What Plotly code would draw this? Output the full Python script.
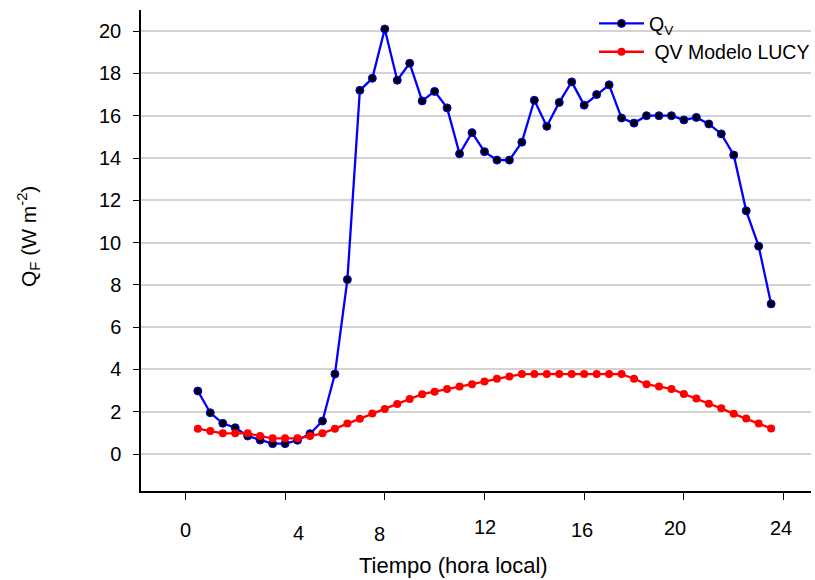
import plotly.graph_objects as go

hours = [0.5 * i for i in range(1, 48)]
qv_obs = [2.98, 1.95, 1.45, 1.24, 0.85, 0.66, 0.49, 0.49, 0.65, 0.96, 1.56, 3.78,
          8.25, 17.2, 17.77, 20.1, 17.68, 18.48, 16.7, 17.15, 16.37, 14.2, 15.2, 14.3,
          13.9, 13.9, 14.75, 16.73, 15.5, 16.63, 17.6, 16.5, 17.0, 17.46, 15.89, 15.65,
          16.0, 16.0, 16.0, 15.8, 15.92, 15.61, 15.14, 14.14, 11.5, 9.83, 7.1]
qv_lucy = [1.2, 1.09, 0.98, 0.98, 0.98, 0.85, 0.74, 0.74, 0.74, 0.85, 0.98, 1.2,
           1.44, 1.67, 1.91, 2.13, 2.37, 2.6, 2.83, 2.95, 3.08, 3.19, 3.30, 3.43,
           3.56, 3.67, 3.78, 3.78, 3.78, 3.78, 3.78, 3.78, 3.78, 3.78, 3.78, 3.56,
           3.30, 3.19, 3.08, 2.84, 2.62, 2.38, 2.16, 1.90, 1.68, 1.44, 1.21]
x_ticks = [0, 4, 8, 12, 16, 20, 24]
x_tick_labels = ["0", "4", "8", "12", "16", "20", "24"]
y_ticks = list(range(0, 21, 2))

# per-label jitter of the original's x tick labels (style only)
x_label_dx = [0, 13, -5, 1, -2, -9, -3]
x_label_cy = [530, 533, 534, 527, 530, 528, 528]

FONT = "Liberation Sans, Arial, sans-serif"
W, H = 815, 580
L, R, T, B = 141, 0, 10, 89

fig = go.Figure()
fig.add_trace(go.Scatter(
    x=hours, y=qv_obs, mode="lines+markers", name="Q<sub>V</sub>",
    line=dict(color="#0000ff", width=2.3),
    marker=dict(color="#000000", size=8, line=dict(color="#0000ff", width=1)),
    legendgroup="a",
))
fig.add_trace(go.Scatter(
    x=hours, y=qv_lucy, mode="lines+markers", name=" QV Modelo LUCY",
    line=dict(color="#ff0000", width=2.3),
    marker=dict(color="#ff0000", size=8),
    legendgroup="b",
))

annotations = []
for v, lab, dx, cy in zip(x_ticks, x_tick_labels, x_label_dx, x_label_cy):
    annotations.append(dict(
        x=v, xref="x", y=0, yref="paper", text=lab, showarrow=False,
        xanchor="center", yanchor="middle", xshift=dx, yshift=-(cy - (H - B)),
        font=dict(family=FONT, size=20, color="#000000"),
    ))
annotations.append(dict(
    x=(455.5 - L) / (W - L - R), xref="paper", y=0, yref="paper",
    text="Tiempo (hora local)", showarrow=False, xanchor="center", yanchor="middle",
    yshift=-(565 - (H - B)), font=dict(family=FONT, size=22, color="#000000"),
))
annotations.append(dict(
    x=0, xref="paper", y=((H - B) - 237) / (H - T - B), yref="paper",
    text="Q<sub>F</sub> (W m<sup>-2</sup>)", showarrow=False, textangle=-90,
    xanchor="center", yanchor="middle", xshift=-(L - 28),
    font=dict(family=FONT, size=21, color="#000000"),
))

fig.update_layout(
    width=W, height=H,
    margin=dict(l=L, r=R, t=T, b=B, pad=0),
    paper_bgcolor="white", plot_bgcolor="white",
    font=dict(family=FONT, size=20, color="#000000"),
    showlegend=True,
    legend=dict(
        x=(597 - L) / (W - L - R), xanchor="left", y=1.012, yanchor="top",
        bgcolor="rgba(0,0,0,0)", borderwidth=0,
        font=dict(family=FONT, size=19.5, color="#000000"),
        itemwidth=45, tracegroupgap=0,
    ),
    xaxis=dict(
        range=[-1.78, 25.1], tickvals=x_ticks, showticklabels=False,
        ticks="outside", ticklen=7, tickcolor="#000000", tickwidth=1,
        showline=True, linecolor="#000000", linewidth=1.5,
        showgrid=False, zeroline=False,
    ),
    yaxis=dict(
        range=[-1.75, 21.0], tickvals=y_ticks,
        ticks="outside", ticklen=6, tickcolor="#000000", tickwidth=1,
        ticklabelstandoff=8,
        showline=True, linecolor="#000000", linewidth=1.5,
        showgrid=True, gridcolor="#d3d3d3", gridwidth=1.5, zeroline=False,
        tickfont=dict(family=FONT, size=20, color="#000000"),
    ),
    annotations=annotations,
)

fig.write_html("out.html")
